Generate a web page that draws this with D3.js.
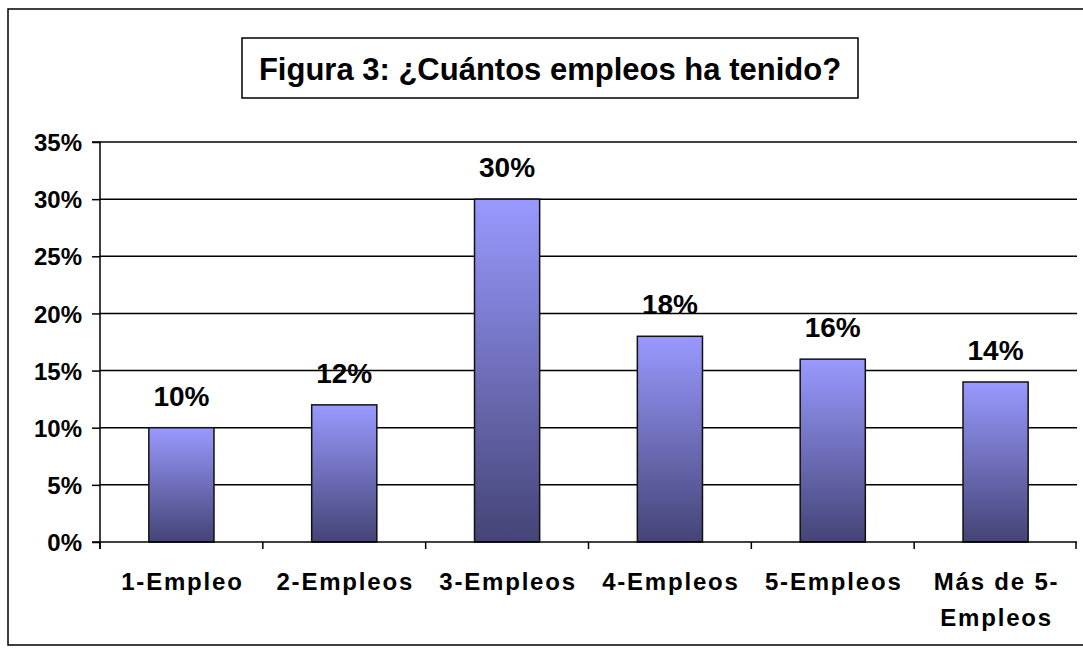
<!DOCTYPE html>
<html>
<head>
<meta charset="utf-8">
<script src="https://cdn.jsdelivr.net/npm/d3@7"></script>
<style>
  body { margin: 0; background: #fff; }
  text { font-family: "Liberation Sans", Arial, sans-serif; font-weight: bold; fill: #000; }
</style>
</head>
<body>
<svg id="chart" width="1083" height="653"></svg>
<script>
const CATEGORIES = ["1-Empleo", "2-Empleos", "3-Empleos", "4-Empleos", "5-Empleos", "Más de 5-|Empleos"];
const VALUES = [10, 12, 30, 18, 16, 14];
const Y_TICKS = [0, 5, 10, 15, 20, 25, 30, 35];
const TITLE = "Figura 3: ¿Cuántos empleos ha tenido?";

const SVG = d3.select("#chart");
const MARGIN = { top: 142, bottom: 111, left: 100, right: 6 };
const WIDTH = 1083;
const HEIGHT = 653;

// outer frame (right side runs off the picture)
SVG.append("rect")
  .attr("x", 8).attr("y", 9)
  .attr("width", 1090).attr("height", 636)
  .attr("fill", "none").attr("stroke", "#000").attr("stroke-width", 1.5);

const DEFS = SVG.append("defs");
const GRAD = DEFS.append("linearGradient")
  .attr("id", "barGrad")
  .attr("x1", 0).attr("y1", 0).attr("x2", 0).attr("y2", 1);
GRAD.append("stop").attr("offset", "0%").attr("stop-color", "#9999ff");
GRAD.append("stop").attr("offset", "100%").attr("stop-color", "#444476");

const X = d3.scaleBand()
  .domain(CATEGORIES)
  .range([MARGIN.left, WIDTH - MARGIN.right])
  .paddingInner(0.6)
  .paddingOuter(0.3);

const Y = d3.scaleLinear()
  .domain([0, 35])
  .range([HEIGHT - MARGIN.bottom, MARGIN.top]);

// gridlines
SVG.append("g")
  .selectAll("line")
  .data(Y_TICKS.filter(d => d > 0))
  .enter()
  .append("line")
  .attr("x1", MARGIN.left).attr("x2", WIDTH - MARGIN.right)
  .attr("y1", d => Y(d)).attr("y2", d => Y(d))
  .attr("stroke", "#000").attr("stroke-width", 1.5);

// bars
SVG.append("g")
  .selectAll("rect")
  .data(VALUES)
  .enter()
  .append("rect")
  .attr("x", (d, i) => X(CATEGORIES[i]))
  .attr("y", d => Y(d))
  .attr("width", X.bandwidth())
  .attr("height", d => Y(0) - Y(d))
  .attr("fill", "url(#barGrad)")
  .attr("stroke", "#111")
  .attr("stroke-width", 1.5);

// data labels
SVG.append("g")
  .selectAll("text")
  .data(VALUES)
  .enter()
  .append("text")
  .attr("x", (d, i) => X(CATEGORIES[i]) + X.bandwidth() / 2)
  .attr("y", d => Y(d) - 22)
  .attr("text-anchor", "middle")
  .attr("font-size", 28)
  .text(d => d + "%");

// y axis
const YAXIS = SVG.append("g")
  .attr("transform", `translate(${MARGIN.left},0)`)
  .call(d3.axisLeft(Y).tickValues(Y_TICKS).tickSize(8).tickPadding(10).tickFormat(d => d + "%"));
YAXIS.select(".domain").attr("stroke", "#000").attr("stroke-width", 1.5).attr("d", `M-8,${Y(35)}H0V${Y(0) + 7}`);
YAXIS.selectAll(".tick line").attr("stroke-width", 1.5);
YAXIS.selectAll("text")
  .attr("font-size", 24)
  .attr("dy", "0.36em")
  .style("font-family", "Liberation Sans, Arial, sans-serif")
  .style("font-weight", "bold");

// x axis
const XAXIS = SVG.append("g")
  .attr("transform", `translate(0,${Y(0)})`);
XAXIS.append("line")
  .attr("x1", MARGIN.left - 8).attr("x2", WIDTH - MARGIN.right)
  .attr("stroke", "#000").attr("stroke-width", 1.5);
const STEP = X.step();
XAXIS.selectAll("line.tk")
  .data(d3.range(CATEGORIES.length + 1))
  .enter()
  .append("line")
  .attr("class", "tk")
  .attr("x1", i => MARGIN.left + i * STEP - (i === CATEGORIES.length ? 1 : 0))
  .attr("x2", i => MARGIN.left + i * STEP - (i === CATEGORIES.length ? 1 : 0))
  .attr("y1", 0).attr("y2", 7)
  .attr("stroke", "#000").attr("stroke-width", 1.5);

const XLAB = XAXIS.selectAll("text.xl")
  .data(CATEGORIES)
  .enter()
  .append("text")
  .attr("class", "xl")
  .attr("y", 48)
  .attr("text-anchor", "middle")
  .attr("font-size", 24)
  .attr("letter-spacing", 1.8);
XLAB.each(function (d) {
  const parts = d.split("|");
  parts.forEach((p, j) => {
    d3.select(this).append("tspan")
      .attr("x", X(d) + X.bandwidth() / 2 + 1)
      .attr("dy", j === 0 ? 0 : 36)
      .text(p);
  });
});

// title box
const TB = SVG.append("g");
TB.append("rect")
  .attr("x", 242).attr("y", 38)
  .attr("width", 616).attr("height", 60)
  .attr("fill", "#fff").attr("stroke", "#000").attr("stroke-width", 1.5);
TB.append("text")
  .attr("x", 550).attr("y", 80)
  .attr("text-anchor", "middle")
  .attr("font-size", 31)
  .text(TITLE);
</script>
</body>
</html>
